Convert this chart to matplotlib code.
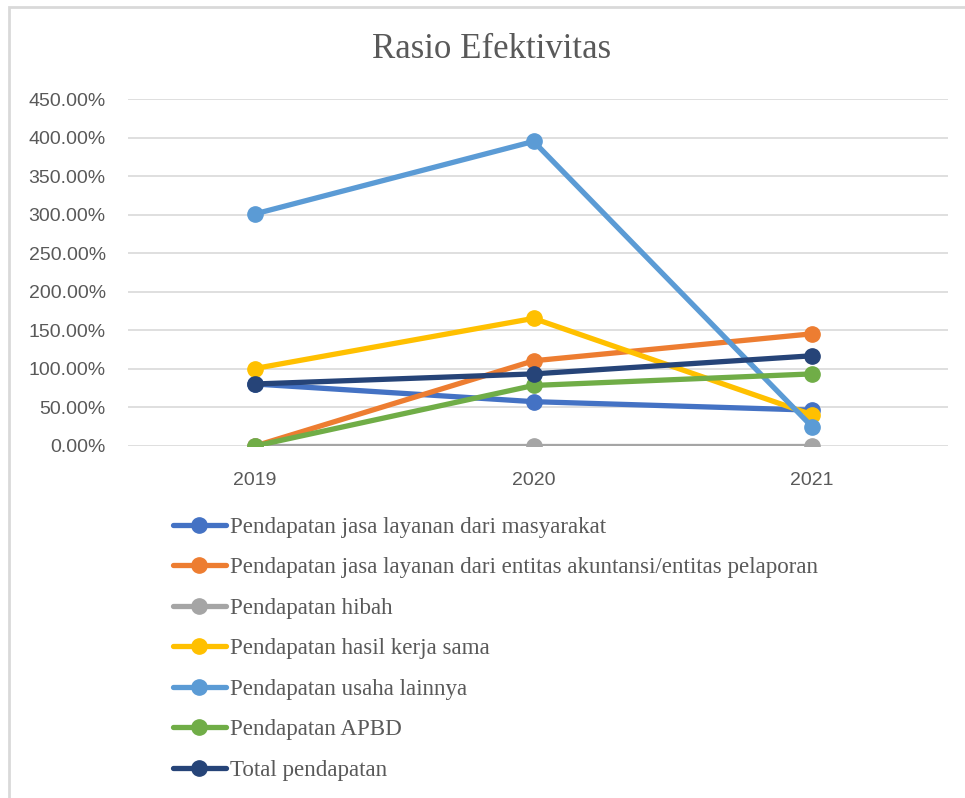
import matplotlib.pyplot as plt
from matplotlib.patches import Rectangle
from matplotlib.ticker import FuncFormatter

years = ['2019', '2020', '2021']

jasa_masyarakat = [80.4, 57.5, 46.5]
jasa_entitas = [0.0, 110.5, 145.5]
hibah = [0.0, 0.0, 0.0]
kerja_sama = [100.5, 165.5, 40.5]
usaha_lainnya = [301.0, 395.0, 25.0]
apbd = [0.0, 78.5, 93.5]
total = [80.4, 93.5, 117.0]

labels = [
    'Pendapatan jasa layanan dari masyarakat',
    'Pendapatan jasa layanan dari entitas akuntansi/entitas pelaporan',
    'Pendapatan hibah',
    'Pendapatan hasil kerja sama',
    'Pendapatan usaha lainnya',
    'Pendapatan APBD',
    'Total pendapatan',
]
colors = ['#4472C4', '#ED7D31', '#A5A5A5', '#FFC000', '#5B9BD5', '#70AD47', '#264478']
series = [jasa_masyarakat, jasa_entitas, hibah, kerja_sama, usaha_lainnya, apbd, total]

fig = plt.figure(figsize=(9.65, 7.98), dpi=100)
ax = fig.add_axes([128 / 965, 1 - 446 / 798, 820 / 965, 347 / 798])

x = range(len(years))
for vals, lab, col in zip(series, labels, colors):
    ax.plot(x, vals, color=col, lw=3.8, marker='o', markersize=11,
            solid_capstyle='round', label=lab, zorder=3)

ax.set_xlim(-0.456, 2.488)
ax.set_ylim(0, 450)
ax.set_yticks(range(0, 451, 50))
ax.yaxis.set_major_formatter(FuncFormatter(lambda v, p: f'{v:.2f}%'))
ax.set_xticks(list(x))
ax.set_xticklabels(years)
ax.grid(axis='y', color='#D9D9D9', lw=1.2, zorder=0)
for s in ax.spines.values():
    s.set_visible(False)
ax.tick_params(length=0, labelsize=14, labelcolor='#595959')
ax.tick_params(axis='x', pad=19)
ax.tick_params(axis='y', pad=16)
for t in ax.get_xticklabels() + ax.get_yticklabels():
    t.set_family('Liberation Sans')

fig.text(492 / 965, 1 - 50 / 798, 'Rasio Efektivitas', ha='center', va='center',
         fontsize=25, family='Liberation Serif', color='#595959')

leg = fig.legend(loc='upper left', bbox_to_anchor=(152 / 965, 1 - 496 / 798),
                 frameon=False, handlelength=2.3, handletextpad=0.2,
                 labelspacing=0.84,
                 prop={'family': 'Liberation Serif', 'size': 16.6})
for t in leg.get_texts():
    t.set_color('#595959')

fig.patches.append(Rectangle((9 / 965, -0.01), 1.1, 1 - 7 / 798 + 0.01,
                             transform=fig.transFigure, fill=False,
                             edgecolor='#D9D9D9', lw=2))

fig.savefig('out.png', dpi=100)
